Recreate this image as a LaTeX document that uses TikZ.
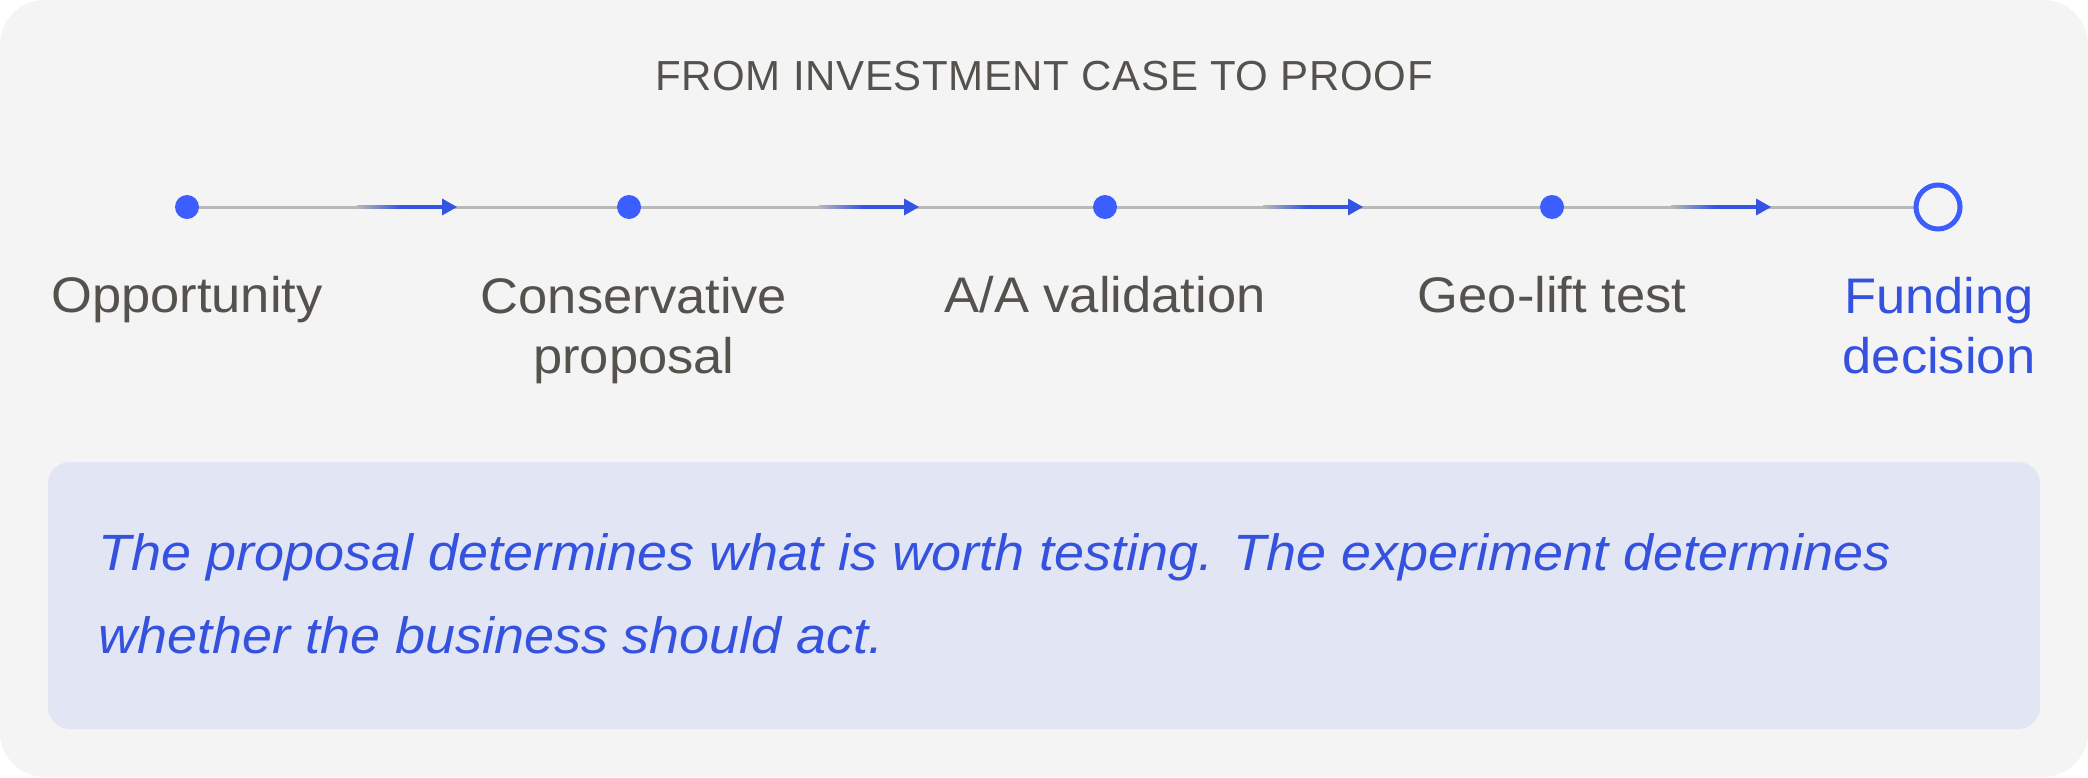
\documentclass[tikz,border=0pt]{standalone}
\usepackage{fontspec}
\setmainfont{Liberation Sans}
\newfontfamily\lblfont[FakeStretch=1.05]{Liberation Sans}
\newfontfamily\quotefont[FakeStretch=1.058]{Liberation Sans}
\newfontfamily\titlefont[LetterSpace=1.5]{Liberation Sans}
\definecolor{bgc}{HTML}{F4F4F4}
\definecolor{boxc}{HTML}{E2E6F4}
\definecolor{dotc}{HTML}{3D5EFF}
\definecolor{arrowc}{HTML}{3454E4}
\definecolor{txtblue}{HTML}{3552DF}
\definecolor{txtgray}{HTML}{55524D}
\definecolor{linec}{HTML}{B8B8B8}
\tikzset{
  dotnode/.style={circle, fill=dotc, inner sep=0pt, minimum size=24pt},
  endnode/.style={circle, draw=dotc, line width=5pt, fill=bgc, inner sep=0pt, minimum size=44pt},
  lbl/.style={text=txtgray, font=\lblfont\fontsize{50}{60}\selectfont, align=center, inner sep=0pt},
  lblblue/.style={lbl, text=txtblue},
  titlenode/.style={text=txtgray, font=\titlefont\fontsize{42}{50}\selectfont, inner sep=0pt},
  quote/.style={text=txtblue, font=\quotefont\fontsize{51}{83}\selectfont\itshape, align=left, inner sep=0pt},
  track/.style={draw=linec, line width=3pt},
}
\begin{document}
\begin{tikzpicture}[x=1pt,y=-1pt]
\useasboundingbox (0,0) rectangle (2088,777);
\fill[white] (0,0) rectangle (2088,777);
\fill[bgc, rounded corners=45pt] (0,0) rectangle (2088,777);
\fill[boxc, rounded corners=22pt] (48,462) rectangle (2040,729);

\node[titlenode, anchor=base] (title) at (1044,90) {FROM INVESTMENT CASE TO PROOF};

\coordinate (p1) at (187,207);
\coordinate (p2) at (629,207);
\coordinate (p3) at (1105,207);
\coordinate (p4) at (1552,207);
\coordinate (p5) at (1938,207);

\draw[track] (p1) -- (p5);

\foreach \t in {457,919,1363,1771}{
  \shade[left color=linec, right color=arrowc, middle color=arrowc] (\t-100,205.5) rectangle (\t-12,208.5);
  \fill[arrowc] (\t-15,198.5) -- (\t,207) -- (\t-15,215.5) -- cycle;
}

\node[dotnode] (d1) at (p1) {};
\node[dotnode] (d2) at (p2) {};
\node[dotnode] (d3) at (p3) {};
\node[dotnode] (d4) at (p4) {};
\node[endnode] (d5) at (p5) {};

\node[lbl, anchor=base] (l1) at (187,312) {Opportunity};
\node[lbl, anchor=base] (l2) at (634,373) {Conservative\\proposal};
\node[lbl, anchor=base] (l3) at (1105,312) {A/A validation};
\node[lbl, anchor=base] (l4) at (1552,312) {Geo-lift test};
\node[lblblue, anchor=base] (l5) at (1939,373) {Funding\\decision};

\node[quote, anchor=base west] (q) at (98,653) {The proposal determines what is worth testing. The experiment determines\\whether the business should act.};
\end{tikzpicture}
\end{document}
